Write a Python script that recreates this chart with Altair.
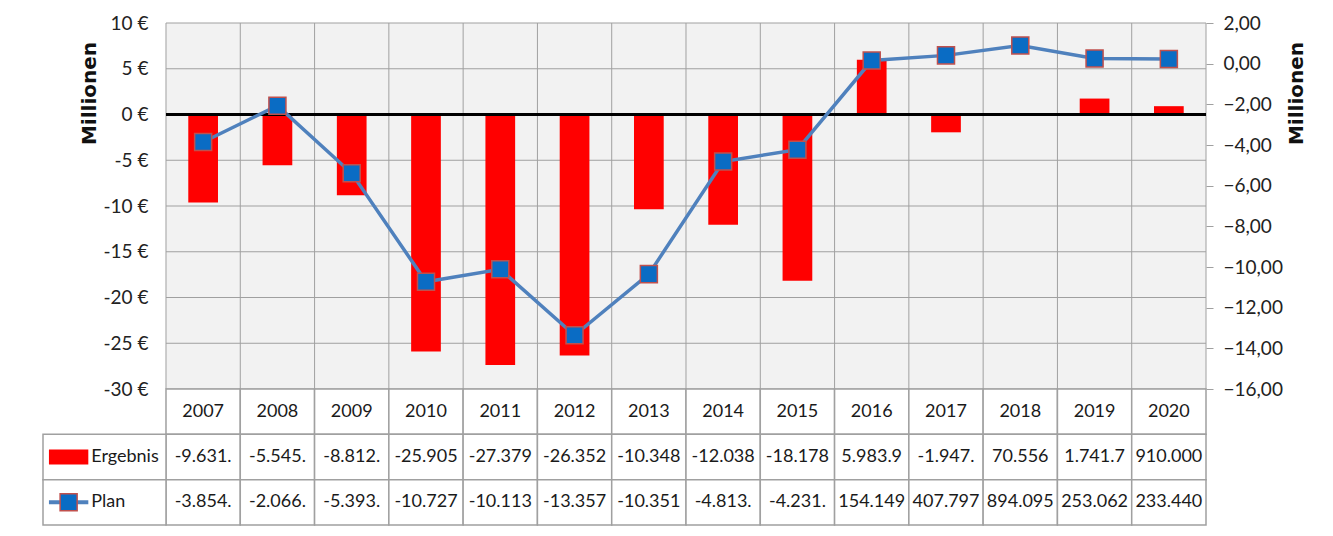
import altair as alt
import pandas as pd

# ---------------- data ----------------
years = [2007, 2008, 2009, 2010, 2011, 2012, 2013, 2014, 2015, 2016, 2017, 2018, 2019, 2020]
ergebnis_mio = [-9.631, -5.545, -8.812, -25.905, -27.379, -26.352, -10.348, -12.038,
                -18.178, 5.9839, -1.947, 0.070556, 1.7417, 0.910]
plan_mio = [-3.854, -2.066, -5.393, -10.727, -10.113, -13.357, -10.351, -4.813,
            -4.231, 0.154149, 0.407797, 0.894095, 0.253062, 0.233440]
ergebnis_label = ["-9.631.", "-5.545.", "-8.812.", "-25.905", "-27.379", "-26.352", "-10.348",
                  "-12.038", "-18.178", "5.983.9", "-1.947.", "70.556", "1.741.7", "910.000"]
plan_label = ["-3.854.", "-2.066.", "-5.393.", "-10.727", "-10.113", "-13.357", "-10.351",
              "-4.813.", "-4.231.", "154.149", "407.797", "894.095", "253.062", "233.440"]
left_ticks = [-30, -25, -20, -15, -10, -5, 0, 5, 10]
right_ticks = [-16, -14, -12, -10, -8, -6, -4, -2, 0, 2]
row_names = ["Jahr", "Ergebnis", "Plan"]

# ---------------- layout constants ----------------
N = len(years)
COL_PX = 74.29
LEG_PX = 123
LEG = LEG_PX / COL_PX
W = 1163
H_TOP = 366
H_TAB = 136
LABEL_FONT = "Lato"
TITLE_FONT = "DejaVu Sans"
GRID = "#a0a0a0"

xs = alt.Scale(domain=[-LEG, N], nice=False, zero=False)
yl = alt.Scale(domain=[min(left_ticks), max(left_ticks)], nice=False, zero=False)
yr = alt.Scale(domain=[min(right_ticks), max(right_ticks)], nice=False, zero=False)

yl_axis = alt.Axis(orient="left", values=left_ticks, labelExpr="datum.value + ' €'",
                   grid=False, ticks=False, domain=False, offset=-LEG_PX, labelPadding=18,
                   labelFont=LABEL_FONT, labelFontSize=19, labelColor="#222",
                   title="Millionen", titleFont=TITLE_FONT, titleFontWeight="bold",
                   titleFontSize=20, titleColor="#111", titleAngle=270, titleY=70,
                   titleX=-77, titleAlign="center", titleBaseline="middle")
yr_axis = alt.Axis(orient="right", values=right_ticks,
                   labelExpr="replace(format(datum.value, '.2f'), '.', ',')",
                   grid=False, ticks=True, tickSize=7, tickColor=GRID, domain=False,
                   labelPadding=10, labelFont=LABEL_FONT, labelFontSize=19, labelColor="#222",
                   title="Millionen", titleFont=TITLE_FONT, titleFontWeight="bold",
                   titleFontSize=20, titleColor="#111", titleAngle=270, titleY=70,
                   titleX=90, titleAlign="center", titleBaseline="middle")

df = pd.DataFrame({"idx": list(range(N)), "year": years, "erg": ergebnis_mio, "plan": plan_mio})

def YL(field):
    return alt.Y(field, type="quantitative", scale=yl, axis=yl_axis)

# background of plot area
bg = alt.Chart(pd.DataFrame({"a": [0]})).transform_calculate(
    x0="0", x1=str(N), y0=str(min(left_ticks)), y1=str(max(left_ticks))
).mark_rect(fill="#f2f2f2").encode(
    x=alt.X("x0:Q", scale=xs, axis=None), x2="x1:Q", y=YL("y0"), y2="y1:Q")

hgrid = alt.Chart(pd.DataFrame({"y": left_ticks})).transform_calculate(
    x0="0", x1=str(N)
).mark_rule(color=GRID, strokeWidth=1).encode(
    x=alt.X("x0:Q", scale=xs, axis=None), x2="x1:Q", y=YL("y"))

vgrid = alt.Chart(pd.DataFrame({"x": list(range(N + 1))})).transform_calculate(
    y0=str(min(left_ticks)), y1=str(max(left_ticks))
).mark_rule(color=GRID, strokeWidth=1).encode(
    x=alt.X("x:Q", scale=xs, axis=None), y=YL("y0"), y2="y1:Q")

bars = alt.Chart(df).transform_calculate(
    x0="datum.idx + 0.3", x1="datum.idx + 0.7", zero="0"
).mark_bar(color="#ff0000").encode(
    x=alt.X("x0:Q", scale=xs, axis=None), x2="x1:Q", y=YL("erg"), y2="zero:Q")

zero_line = alt.Chart(pd.DataFrame({"y": [0]})).transform_calculate(
    x0="0", x1=str(N)
).mark_rule(color="black", strokeWidth=3).encode(
    x=alt.X("x0:Q", scale=xs, axis=None), x2="x1:Q", y=YL("y"))

left = alt.layer(bg, hgrid, vgrid, bars, zero_line)

line = alt.Chart(df).transform_calculate(xm="datum.idx + 0.5").mark_line(
    color="#4f81bd", strokeWidth=3.5).encode(
    x=alt.X("xm:Q", scale=xs, axis=None),
    y=alt.Y("plan:Q", scale=yr, axis=yr_axis))
pts = alt.Chart(df).transform_calculate(xm="datum.idx + 0.5").mark_point(
    shape="square", filled=True, size=290, fill="#0a6cc4", stroke="#c0504d",
    strokeWidth=1.5, opacity=1).encode(
    x=alt.X("xm:Q", scale=xs, axis=None),
    y=alt.Y("plan:Q", scale=yr, axis=yr_axis))
right = alt.layer(line, pts)

top = alt.layer(left, right).resolve_scale(y="independent").properties(width=W, height=H_TOP)

# ---------------- data table ----------------
recs = []
for i in range(N):
    recs.append({"row": "Jahr", "x0": i, "x1": i + 1, "text": str(years[i])})
    recs.append({"row": "Ergebnis", "x0": i, "x1": i + 1, "text": ergebnis_label[i]})
    recs.append({"row": "Plan", "x0": i, "x1": i + 1, "text": plan_label[i]})
for r in ["Ergebnis", "Plan"]:
    recs.append({"row": r, "x0": -LEG, "x1": 0, "text": ""})
cells = pd.DataFrame(recs)

ys_tab = alt.Scale(domain=row_names, paddingInner=0, paddingOuter=0)
YT = alt.Y("row:N", scale=ys_tab, axis=None)

cell_rect = alt.Chart(cells).mark_rect(fill="white", stroke=GRID, strokeWidth=1.5).encode(
    x=alt.X("x0:Q", scale=xs, axis=None), x2="x1:Q", y=YT)
cell_text = alt.Chart(cells).transform_filter("datum.text != ''").transform_calculate(
    xm="(datum.x0 + datum.x1) / 2").mark_text(
    font=LABEL_FONT, fontSize=18, color="#1a1a1a").encode(
    x=alt.X("xm:Q", scale=xs, axis=None), y=YT, text="text:N")

# legend keys in the first column
SYM0 = -LEG + 0.08
SYM1 = -LEG + 0.61
leg = pd.DataFrame({"row": ["Ergebnis", "Plan"], "label": ["Ergebnis", "Plan"]})
key_bar = alt.Chart(leg).transform_filter("datum.row == 'Ergebnis'").transform_calculate(
    x0=str(SYM0), x1=str(SYM1)).mark_bar(color="#ff0000", height=15).encode(
    x=alt.X("x0:Q", scale=xs, axis=None), x2="x1:Q", y=YT)
key_line = alt.Chart(leg).transform_filter("datum.row == 'Plan'").transform_calculate(
    x0=str(SYM0), x1=str(SYM1)).mark_bar(color="#4f81bd", height=4).encode(
    x=alt.X("x0:Q", scale=xs, axis=None), x2="x1:Q", y=YT)
key_pt = alt.Chart(leg).transform_filter("datum.row == 'Plan'").transform_calculate(
    xm=str((SYM0 + SYM1) / 2)).mark_point(
    shape="square", filled=True, size=290, fill="#0a6cc4", stroke="#c0504d",
    strokeWidth=1.5, opacity=1).encode(
    x=alt.X("xm:Q", scale=xs, axis=None), y=YT)
key_text = alt.Chart(leg).transform_calculate(xt=str(SYM1 + 0.04)).mark_text(
    font=LABEL_FONT, fontSize=18, color="#1a1a1a", align="left").encode(
    x=alt.X("xt:Q", scale=xs, axis=None), y=YT, text="label:N")

table = alt.layer(cell_rect, cell_text, key_bar, key_line, key_pt, key_text).properties(
    width=W, height=H_TAB)

chart = alt.vconcat(top, table, spacing=0, bounds="flush").properties(
    padding={"left": 34, "top": 6, "right": 5, "bottom": 2},
    background="white"
).configure_view(strokeWidth=0).configure_concat(spacing=0)

chart.save("out.html", embed_options={"renderer": "svg", "actions": False})
